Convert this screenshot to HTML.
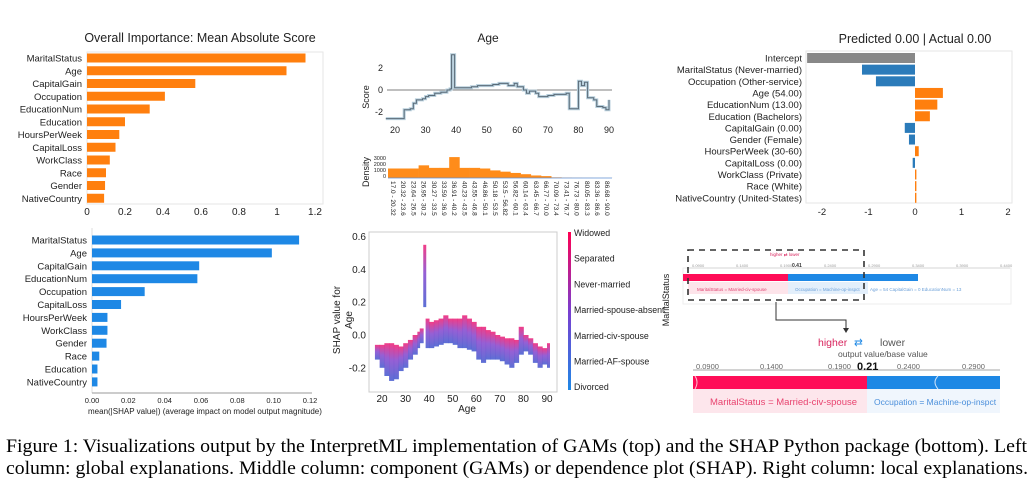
<!DOCTYPE html>
<html><head><meta charset="utf-8"><style>
html,body{margin:0;padding:0;background:#fff}
svg{display:block;font-family:"Liberation Sans",sans-serif}
</style></head><body>
<svg id="s" width="1033" height="491" viewBox="0 0 1033 491">
<g id="g1"></g>
<g id="g2"></g>
<g id="g3"></g>
<g id="g4"></g>
<g id="g5"></g>
<g id="g6"></g>
<g id="cap">
<text x="6" y="452" font-family="Liberation Serif" font-size="19" textLength="1021" lengthAdjust="spacingAndGlyphs">Figure 1: Visualizations output by the InterpretML implementation of GAMs (top) and the SHAP Python package (bottom). Left</text>
<text x="6" y="474" font-family="Liberation Serif" font-size="19" textLength="1022" lengthAdjust="spacingAndGlyphs">column: global explanations. Middle column: component (GAMs) or dependence plot (SHAP). Right column: local explanations.</text>
</g>
</svg>
<script>
const gamFeatures=["MaritalStatus","Age","CapitalGain","Occupation","EducationNum","Education","HoursPerWeek","CapitalLoss","WorkClass","Race","Gender","NativeCountry"];
const gamImportance=[1.15,1.05,0.57,0.41,0.33,0.2,0.17,0.15,0.12,0.10,0.095,0.09];
const gamTicks=["0","0.2","0.4","0.6","0.8","1","1.2"];
const ageX=[17,22,23,25,26,27,29,30,31,33,35,37,38,38.5,39.5,44,45,47,50,52,54,57,59,60,62,63,64,66,67,70,72,76,77,79,80,81,82,83,85,86,88,89,90];
const ageScore=[-2.6,-2.6,-1.8,-1.7,-1.2,-0.9,-0.8,-0.6,-0.5,-0.3,-0.2,0,0.1,3.2,0.2,0.2,0.3,0.4,0.4,0.5,0.6,0.4,0.6,0.3,0,-0.3,-0.1,-0.3,-0.6,-0.5,-0.4,-0.3,-1.7,-1.7,0.8,0.4,0.7,-0.7,-0.9,-1.5,-1.6,-1.8,-0.9];
const ageXTicks=[20,30,40,50,60,70,80,90];
const scoreTicks=[-2,0,2];
const densityBins=["17.0 - 20.32","20.32 - 23.6","23.64 - 26.5","26.95 - 30.2","30.27 - 33.5","33.59 - 36.9","36.91 - 40.2","40.23 - 43.5","43.55 - 46.8","46.86 - 50.1","50.18 - 53.5","53.5 - 56.82","56.82 - 60.1","60.14 - 63.4","63.45 - 66.7","66.77 - 70.0","70.09 - 73.4","73.41 - 76.7","76.73 - 80.0","80.05 - 83.3","83.36 - 86.6","86.68 - 90.0"];
const densityVals=[1500,1500,1500,2000,1600,1600,3300,1600,1600,1500,1200,1000,800,600,400,300,100,50,30,20,10,10];
const localFeatures=["Intercept","MaritalStatus (Never-married)","Occupation (Other-service)","Age (54.00)","EducationNum (13.00)","Education (Bachelors)","CapitalGain (0.00)","Gender (Female)","HoursPerWeek (30-60)","CapitalLoss (0.00)","WorkClass (Private)","Race (White)","NativeCountry (United-States)"];
const localVals=[-2.32,-1.14,-0.84,0.6,0.48,0.32,-0.22,-0.13,0.08,-0.05,0.03,0.03,0.03];
const localTicks=[-2,-1,0,1,2];
const shapFeatures=["MaritalStatus","Age","CapitalGain","EducationNum","Occupation","CapitalLoss","HoursPerWeek","WorkClass","Gender","Race","Education","NativeCountry"];
const shapVals=[0.114,0.099,0.059,0.058,0.029,0.016,0.0085,0.0085,0.008,0.004,0.003,0.003];
const shapTicks=["0.00","0.02","0.04","0.06","0.08","0.10","0.12"];
const depAge=[17,19,21,23,25,27,29,31,33,35,36,37.5,38.5,40,42,44,46,48,50,52,54,56,58,60,62,64,66,68,70,72,74,76,78,80,82,84,86,88,90];
const depHi=[-0.06,-0.06,-0.05,-0.05,-0.06,-0.07,-0.05,-0.03,0.0,0.02,0.04,0.55,0.1,0.08,0.09,0.1,0.12,0.1,0.1,0.1,0.12,0.1,0.08,0.05,0.05,0.03,0.02,0.0,-0.01,-0.02,-0.02,-0.03,0.05,0.0,-0.02,-0.05,-0.07,-0.08,-0.05];
const depLo=[-0.15,-0.2,-0.25,-0.28,-0.27,-0.22,-0.2,-0.15,-0.12,-0.08,-0.05,0.17,-0.08,-0.08,-0.07,-0.06,-0.05,-0.05,-0.06,-0.08,-0.08,-0.09,-0.1,-0.15,-0.17,-0.15,-0.15,-0.15,-0.16,-0.18,-0.2,-0.17,-0.12,-0.1,-0.12,-0.17,-0.2,-0.18,-0.2];
const depXTicks=[20,30,40,50,60,70,80,90];
const depYTicks=[-0.2,0.0,0.2,0.4,0.6];
const colorbarLabels=["Widowed","Separated","Never-married","Married-spouse-absent","Married-civ-spouse","Married-AF-spouse","Divorced"];
const forceTicks=["0.0900","0.1400","0.1900","0.2400","0.2900"];

const NS="http://www.w3.org/2000/svg";
function mk(p,tag,a,txt){const e=document.createElementNS(NS,tag);for(const k in a)e.setAttribute(k,a[k]);if(txt!==undefined)e.textContent=txt;p.appendChild(e);return e;}
const TXT="#222";

(function(){
const g=document.getElementById('g1');
const x0=87,x1=315,yTop=52,yBot=204,rowH=12.75,bh=9;
const xs=v=>x0+(x1-x0)*v/1.2;
mk(g,'text',{x:200,y:42,'font-size':12.5,'text-anchor':'middle',fill:TXT},'Overall Importance: Mean Absolute Score');
mk(g,'rect',{x:x0,y:yTop,width:236,height:yBot-yTop,fill:'none',stroke:'#e6e6e6'});
gamFeatures.forEach((f,i)=>{const cy=58+i*rowH;
 const r=mk(g,'rect',{x:x0,y:cy-bh/2,width:xs(gamImportance[i])-x0,height:bh,fill:'#ff7f0e'});
 
 mk(g,'text',{x:82,y:cy+3.5,'font-size':9.5,'text-anchor':'end',fill:TXT},f);});
gamTicks.forEach((t,i)=>mk(g,'text',{x:xs(i*0.2),y:215,'font-size':10,'text-anchor':'middle',fill:TXT},t));
})();

(function(){
const g=document.getElementById('g2');
const ax=a=>395+(a-20)*214/70, sy=v=>90-v*11;
mk(g,'text',{x:488,y:42,'font-size':12,'text-anchor':'middle',fill:TXT},'Age');
mk(g,'line',{x1:387,y1:sy(0),x2:612,y2:sy(0),stroke:'#555','stroke-width':0.8});
let d='';ageX.forEach((a,i)=>{const x=ax(a),y=sy(ageScore[i]);if(i==0)d+=`M${x},${y}`;else d+=`H${x}V${y}`;});
const p=mk(g,'path',{d:d,fill:'none',stroke:'#b8cfdc','stroke-width':3});
mk(g,'path',{d:d,fill:'none',stroke:'#5a6b78','stroke-width':1});

scoreTicks.forEach(t=>mk(g,'text',{x:383,y:sy(t)+3,'font-size':9,'text-anchor':'end',fill:TXT},t));
ageXTicks.forEach(t=>mk(g,'text',{x:ax(t),y:133,'font-size':9,'text-anchor':'middle',fill:TXT},t));
mk(g,'text',{x:0,y:0,'font-size':9,'text-anchor':'middle',fill:TXT,transform:'translate(369,97) rotate(-90)'},'Score');
const dx0=388,dw=10.2,dy0=178,ds=v=>v*19/3000;
densityBins.forEach((b,i)=>{const h=ds(densityVals[i]);
 const r=mk(g,'rect',{x:dx0+i*dw,y:dy0-h,width:dw+0.3,height:h,fill:'#ff8c1a'});
 
 mk(g,'text',{x:0,y:0,'font-size':6.5,fill:TXT,transform:`translate(${dx0+i*dw+3},181) rotate(90)`},b);});
mk(g,'line',{x1:dx0,y1:dy0,x2:612,y2:dy0,stroke:'#5b8fd6','stroke-width':0.8});
['3000','2000','1000','0'].forEach((t,i)=>mk(g,'text',{x:386,y:160+i*6,'font-size':5.5,'text-anchor':'end',fill:TXT},t));
mk(g,'text',{x:0,y:0,'font-size':9,'text-anchor':'middle',fill:TXT,transform:'translate(369,172) rotate(-90)'},'Density');
})();

(function(){
const g=document.getElementById('g3');
const zx=915,sc=46.5;
mk(g,'text',{x:915,y:43,'font-size':12.5,'text-anchor':'middle',fill:TXT},'Predicted 0.00 | Actual 0.00');
mk(g,'rect',{x:806,y:51,width:206,height:152,fill:'none',stroke:'#e6e6e6'});
localFeatures.forEach((f,i)=>{const cy=58+i*11.65,v=localVals[i];
 const col=i==0?'#888':(v<0?'#2b7bba':'#ff7f0e');
 const r=mk(g,'rect',{x:v<0?zx+v*sc:zx,y:cy-5,width:Math.abs(v)*sc,height:10,fill:col});
 
 mk(g,'text',{x:802,y:cy+3.5,'font-size':9.5,'text-anchor':'end',fill:TXT},f);});
localTicks.forEach(t=>mk(g,'text',{x:zx+t*sc,y:215,'font-size':9.5,'text-anchor':'middle',fill:TXT},t));
})();

(function(){
const g=document.getElementById('g4');
const x0=92,xs=v=>x0+v*218/0.12;
mk(g,'line',{x1:x0,y1:228,x2:x0,y2:393,stroke:'#ddd'});
mk(g,'line',{x1:x0,y1:393,x2:312,y2:393,stroke:'#999'});
shapFeatures.forEach((f,i)=>{const cy=240+i*12.9;
 const r=mk(g,'rect',{x:x0,y:cy-4.5,width:xs(shapVals[i])-x0,height:9,fill:'#1e88e5'});
 
 mk(g,'text',{x:87,y:cy+3.5,'font-size':9.5,'text-anchor':'end',fill:TXT},f);});
shapTicks.forEach((t,i)=>mk(g,'text',{x:xs(i*0.02),y:403,'font-size':7.5,'text-anchor':'middle',fill:TXT},t));
mk(g,'text',{x:88,y:414,'font-size':8,fill:TXT},'mean(|SHAP value|) (average impact on model output magnitude)');
})();

(function(){
const g=document.getElementById('g5');
const ax=a=>382+(a-20)*165/70, sy=v=>335-v*164;
const defs=mk(g,'defs',{});
const lg=mk(defs,'linearGradient',{id:'colg',x1:0,y1:1,x2:0,y2:0});
mk(lg,'stop',{offset:'0','stop-color':'#4a5fd0'});mk(lg,'stop',{offset:'0.55','stop-color':'#8a4ed0'});mk(lg,'stop',{offset:'1','stop-color':'#f0287a'});
const cb=mk(defs,'linearGradient',{id:'cbg',x1:0,y1:1,x2:0,y2:0});
mk(cb,'stop',{offset:'0','stop-color':'#1e88e5'});mk(cb,'stop',{offset:'0.5','stop-color':'#7a3ed0'});mk(cb,'stop',{offset:'1','stop-color':'#ff0052'});
mk(g,'rect',{x:369,y:232,width:188,height:160,fill:'none',stroke:'#ccc'});
depAge.forEach((a,i)=>{const w=i+1<depAge.length?ax(depAge[i+1])-ax(a):4;const ww=(i==11||i==38)?3:w+0.4;
 const r=mk(g,'rect',{x:ax(a),y:sy(depHi[i]),width:ww,height:sy(depLo[i])-sy(depHi[i]),fill:'url(#colg)',opacity:0.9});
 });
depXTicks.forEach(t=>mk(g,'text',{x:ax(t),y:402,'font-size':10,'text-anchor':'middle',fill:TXT},t));
depYTicks.forEach(t=>mk(g,'text',{x:366,y:sy(t)+3.5,'font-size':10,'text-anchor':'end',fill:TXT},t.toFixed(1)));
mk(g,'text',{x:467,y:412,'font-size':10,'text-anchor':'middle',fill:TXT},'Age');
mk(g,'text',{x:0,y:0,'font-size':10,'text-anchor':'middle',fill:TXT,transform:'translate(340,320) rotate(-90)'},'SHAP value for');
mk(g,'text',{x:0,y:0,'font-size':10,'text-anchor':'middle',fill:TXT,transform:'translate(352,320) rotate(-90)'},'Age');
mk(g,'rect',{x:568,y:232,width:3,height:158,fill:'url(#cbg)'});
colorbarLabels.forEach((l,i)=>mk(g,'text',{x:574,y:236+i*25.7,'font-size':8.8,fill:TXT},l));
mk(g,'text',{x:0,y:0,'font-size':9,'text-anchor':'middle',fill:TXT,transform:'translate(669,300) rotate(-90)'},'MaritalStatus');
})();

(function(){
const g=document.getElementById('g6');
mk(g,'rect',{x:683,y:268,width:328,height:36,fill:'none',stroke:'#eee'});
mk(g,'line',{x1:689,y1:268,x2:1010,y2:268,stroke:'#bbb','stroke-width':0.6});
['0.0900','0.1400','0.1900','0.2400','0.2900','0.3400','0.3900','0.4400'].forEach((t,i)=>mk(g,'text',{x:692+i*44,y:267,'font-size':4,fill:'#999'},t));
mk(g,'text',{x:792,y:267,'font-size':5,fill:'#333','font-weight':'bold'},'0.41');
mk(g,'text',{x:770,y:256,'font-size':4.5,fill:'#d8245d'},'higher ⇄ lower');
mk(g,'rect',{x:683,y:274,width:105,height:7,fill:'#ff0d57'});
mk(g,'rect',{x:788,y:274,width:130,height:7,fill:'#1e88e5'});
mk(g,'rect',{x:688,y:282,width:100,height:12,fill:'#fde4ea'});
mk(g,'rect',{x:788,y:282,width:80,height:12,fill:'#e3effb'});
mk(g,'text',{x:697,y:291,'font-size':4.5,fill:'#e04070'},'MaritalStatus = Married-civ-spouse');
mk(g,'text',{x:795,y:291,'font-size':4.5,fill:'#6a9fd8'},'Occupation = Machine-op-inspct');
mk(g,'text',{x:870,y:291,'font-size':4.5,fill:'#6a9fd8'},'Age = 54       CapitalGain = 0       EducationNum = 13');
mk(g,'rect',{x:688,y:250,width:176,height:50,fill:'none',stroke:'#333','stroke-width':1.6,'stroke-dasharray':'6,5'});
mk(g,'path',{d:'M776,302V320H846V330',fill:'none',stroke:'#333','stroke-width':1});
mk(g,'path',{d:'M843,328L846,333L849,328Z',fill:'#333'});
mk(g,'text',{x:818,y:346,'font-size':10.5,fill:'#d8245d'},'higher');
mk(g,'text',{x:854,y:346,'font-size':10.5,fill:'#1e88e5'},'⇄');
mk(g,'text',{x:880,y:346,'font-size':10.5,fill:'#555'},'lower');
mk(g,'text',{x:838,y:357,'font-size':8.5,fill:'#555'},'output value/base value');
mk(g,'line',{x1:693,y1:370,x2:1000,y2:370,stroke:'#888','stroke-width':0.7});
const fx=[696,760,828,897,962];
forceTicks.forEach((t,i)=>mk(g,'text',{x:fx[i],y:369,'font-size':7.5,fill:'#666'},t));
mk(g,'text',{x:857,y:370,'font-size':11,'font-weight':'bold',fill:'#111'},'0.21');
const r1=mk(g,'rect',{x:693,y:376,width:174,height:13,fill:'#ff0d57'});

const r2=mk(g,'rect',{x:867,y:376,width:133,height:13,fill:'#1e88e5'});

mk(g,'path',{d:'M938,376Q932,382 938,389',fill:'none',stroke:'#cfe3fa','stroke-width':1});
mk(g,'path',{d:'M695,376Q699,382 695,389',fill:'none',stroke:'#ffc0d0','stroke-width':1});
mk(g,'rect',{x:693,y:389,width:174,height:24,fill:'#fde6ec'});
mk(g,'rect',{x:867,y:389,width:133,height:24,fill:'#f0f6fd'});
mk(g,'text',{x:710,y:405,'font-size':9.5,fill:'#e8436f'},'MaritalStatus = Married-civ-spouse');
mk(g,'text',{x:874,y:405,'font-size':8.5,fill:'#4b8fdb'},'Occupation = Machine-op-inspct');
})();
</script>
</body></html>
